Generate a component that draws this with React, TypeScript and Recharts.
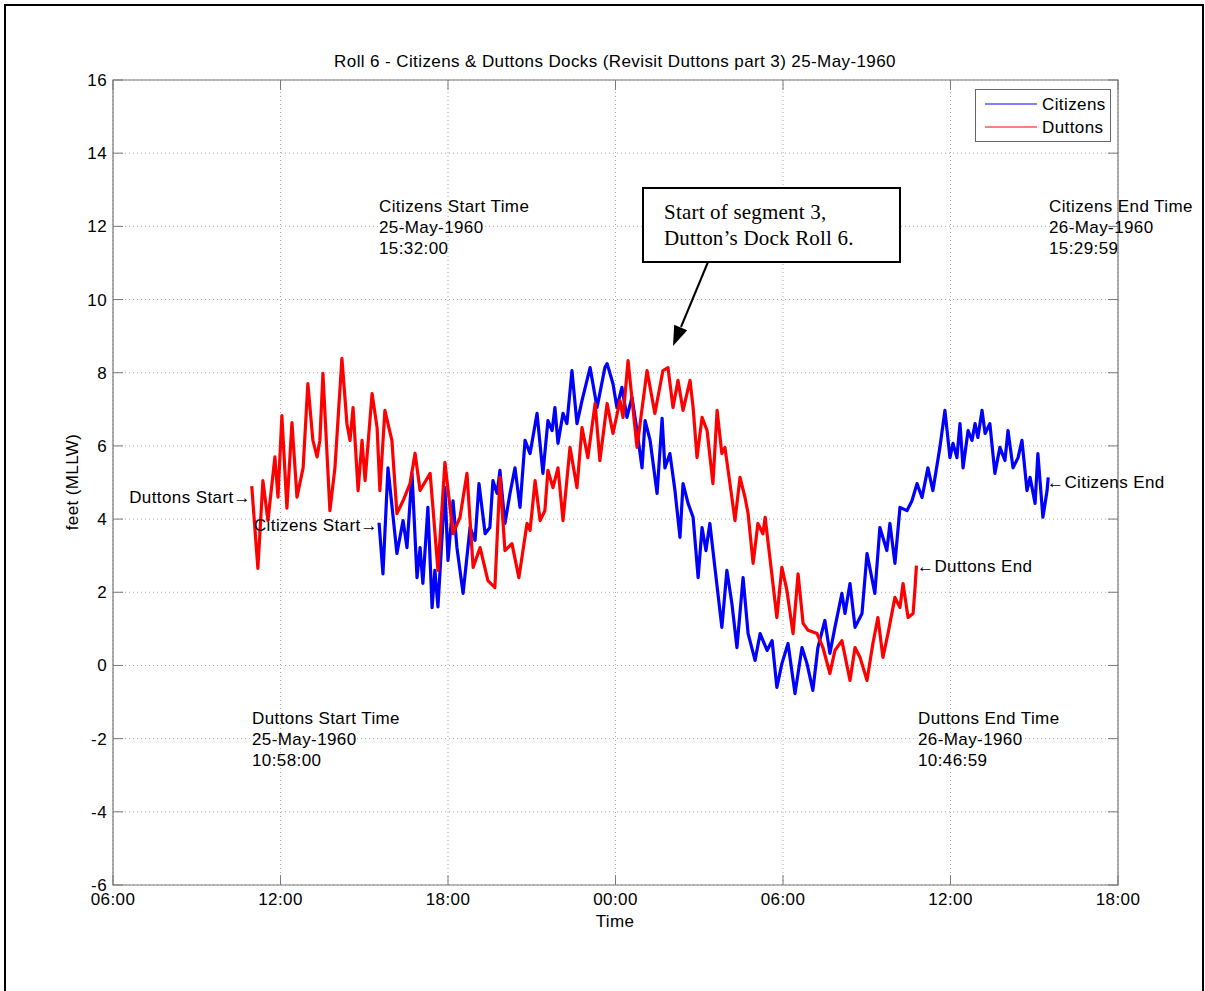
import {
  LineChart,
  Line,
  XAxis,
  YAxis,
  CartesianGrid,
  ReferenceArea,
  ReferenceLine,
} from "recharts";

// hours since midnight of 25-May-1960, water level in feet (MLLW)
const duttons: [number, number][] = [
  [10.97, 4.9], [11.19, 2.65], [11.37, 5.05], [11.55, 3.96], [11.8, 5.7], [11.91, 4.6],
  [12.05, 6.83], [12.23, 4.3], [12.41, 6.64], [12.59, 4.6], [12.81, 5.4], [12.98, 7.7],
  [13.16, 6.15], [13.31, 5.7], [13.41, 6.15], [13.52, 7.98], [13.77, 4.23], [13.95, 5.4],
  [14.2, 8.39], [14.38, 6.6], [14.49, 6.15], [14.6, 7.05], [14.78, 4.78], [14.92, 6.15],
  [15.03, 5.05], [15.28, 7.43], [15.46, 6.5], [15.56, 4.78], [15.74, 6.97], [15.99, 6.15],
  [16.17, 4.15], [16.39, 4.5], [16.64, 4.97], [16.82, 5.8], [17.0, 4.78], [17.36, 5.25],
  [17.46, 4.32], [17.64, 2.6], [17.89, 5.55], [18.18, 3.6], [18.43, 4.05], [18.68, 5.25],
  [18.9, 2.68], [19.15, 3.22], [19.43, 2.32], [19.68, 2.13], [19.86, 5.14], [20.04, 3.14],
  [20.29, 3.33], [20.54, 2.4], [20.83, 3.88], [20.94, 3.69], [21.12, 5.05], [21.3, 3.96],
  [21.47, 4.23], [21.58, 5.33], [21.76, 4.86], [21.94, 5.4], [22.12, 3.96], [22.37, 5.96],
  [22.62, 4.86], [22.8, 6.5], [23.01, 5.68], [23.27, 7.16], [23.44, 5.6], [23.7, 7.16],
  [23.91, 6.34], [24.16, 7.24], [24.27, 6.78], [24.45, 8.33], [24.77, 5.96], [25.13, 8.06],
  [25.41, 6.89], [25.7, 8.06], [25.88, 8.14], [26.06, 7.05], [26.24, 7.79], [26.42, 6.97],
  [26.67, 7.79], [26.78, 7.05], [26.92, 5.68], [27.1, 6.78], [27.28, 6.42], [27.49, 4.97],
  [27.64, 6.97], [27.81, 5.79], [27.92, 5.96], [28.1, 4.97], [28.28, 3.96], [28.46, 5.14],
  [28.64, 4.59], [28.75, 4.15], [28.93, 2.79], [29.1, 3.88], [29.28, 3.6], [29.36, 4.05],
  [29.53, 2.95], [29.78, 1.31], [29.96, 2.68], [30.14, 2.05], [30.36, 0.87], [30.54, 2.5],
  [30.72, 1.15], [30.9, 0.96], [31.22, 0.87], [31.43, 0.49], [31.68, -0.22], [31.86, 0.41],
  [32.11, 0.68], [32.4, -0.41], [32.58, 0.49], [32.76, 0.22], [33.01, -0.41], [33.22, 0.6],
  [33.4, 1.31], [33.58, 0.22], [33.76, 0.87], [34.01, 1.86], [34.19, 1.58], [34.3, 2.24],
  [34.48, 1.31], [34.66, 1.42], [34.73, 2.13], [34.78, 2.73],
];

const citizens: [number, number][] = [
  [15.53, 3.9], [15.67, 2.5], [15.85, 5.4], [16.17, 3.06], [16.39, 3.96], [16.53, 3.22],
  [16.71, 5.25], [16.89, 2.4], [17.0, 3.22], [17.1, 2.24], [17.28, 4.32], [17.43, 1.58],
  [17.53, 2.6], [17.64, 1.6], [17.89, 4.86], [18.0, 2.87], [18.18, 4.5], [18.32, 3.22],
  [18.54, 1.97], [18.79, 3.77], [18.97, 3.42], [19.11, 4.97], [19.33, 3.6], [19.5, 3.77],
  [19.61, 5.05], [19.76, 4.7], [19.86, 5.33], [20.04, 3.88], [20.22, 4.7], [20.4, 5.4],
  [20.58, 4.32], [20.76, 6.15], [20.94, 5.79], [21.19, 6.89], [21.4, 5.25], [21.58, 6.69],
  [21.73, 6.42], [21.83, 7.05], [21.94, 6.07], [22.12, 6.89], [22.26, 6.61], [22.44, 8.06],
  [22.62, 6.61], [22.8, 7.24], [23.09, 8.14], [23.34, 7.05], [23.62, 8.14], [23.7, 8.25],
  [23.91, 7.7], [24.05, 7.05], [24.23, 7.6], [24.41, 6.78], [24.59, 7.33], [24.77, 6.42],
  [24.95, 5.4], [25.06, 6.69], [25.24, 6.15], [25.49, 4.7], [25.67, 6.75], [25.77, 5.4],
  [25.95, 5.79], [26.13, 4.78], [26.31, 3.5], [26.42, 4.97], [26.6, 4.43], [26.78, 4.05],
  [26.96, 2.4], [27.1, 3.77], [27.24, 3.14], [27.38, 3.88], [27.56, 2.68], [27.81, 1.04],
  [27.99, 2.6], [28.17, 1.69], [28.35, 0.49], [28.57, 2.4], [28.75, 0.87], [29.0, 0.14],
  [29.18, 0.87], [29.43, 0.41], [29.61, 0.68], [29.78, -0.6], [29.96, 0.05], [30.18, 0.6],
  [30.43, -0.77], [30.68, 0.49], [30.86, 0.05], [31.07, -0.68], [31.25, 0.49], [31.5, 1.23],
  [31.68, 0.33], [31.86, 1.04], [32.11, 1.97], [32.22, 1.42], [32.4, 2.24], [32.58, 1.04],
  [32.83, 1.42], [33.01, 3.06], [33.29, 1.97], [33.47, 3.77], [33.72, 3.14], [33.83, 3.88],
  [34.01, 2.79], [34.19, 4.32], [34.44, 4.23], [34.62, 4.5], [34.8, 4.97], [34.98, 4.59],
  [35.19, 5.4], [35.37, 4.78], [35.62, 5.96], [35.8, 6.97], [35.98, 5.68], [36.09, 6.07],
  [36.23, 5.68], [36.34, 6.61], [36.45, 5.4], [36.63, 6.42], [36.77, 6.15], [36.88, 6.61],
  [36.98, 6.23], [37.13, 6.97], [37.24, 6.34], [37.41, 6.61], [37.59, 5.25], [37.77, 5.96],
  [37.95, 5.6], [38.06, 6.42], [38.24, 5.4], [38.42, 5.68], [38.56, 6.15], [38.74, 4.78],
  [38.85, 5.14], [39.03, 4.43], [39.13, 5.79], [39.31, 4.05], [39.46, 4.78], [39.5, 5.14],
];

const timeTicks = [6, 12, 18, 24, 30, 36, 42];
const feetTicks = [-6, -4, -2, 0, 2, 4, 6, 8, 10, 12, 14, 16];

const FONT = "'Liberation Sans', Arial, Helvetica, sans-serif";
const SERIF = "'Liberation Serif', 'Times New Roman', serif";
const FS = 17;
const LS = 0.4;

const toRows = (pts: [number, number][]) => pts.map(([t, v]) => ({ t, v }));

const fmtTime = (h: number) => {
  const hh = Math.round(h) % 24;
  return `${hh < 10 ? "0" : ""}${hh}:00`;
};

// inward tick marks, MATLAB style (about 10px long)
const TX = 0.36;
const TY = 0.27;

const txt = { fontSize: FS, fontFamily: FONT, fill: "#000", letterSpacing: LS };

const textBlock = (x: number, y: number, lines: string[]) => (
  <text x={x} {...txt}>
    {lines.map((l, i) => (
      <tspan key={i} x={x} y={y + i * 21}>
        {l}
      </tspan>
    ))}
  </text>
);

const App = () => {
  return (
    <div style={{ position: "absolute", left: 0, top: 0, width: 1205, height: 991, overflow: "hidden", background: "#fff" }}>
      <div
        style={{
          position: "absolute",
          left: 4,
          top: 4,
          width: 1196,
          height: 1000,
          border: "2px solid #000",
          borderBottom: "none",
        }}
      />
      <LineChart
        width={1205}
        height={991}
        margin={{ top: 80, right: 87, bottom: 76, left: 63 }}
        style={{ position: "absolute", left: 0, top: 0 }}
      >
        <CartesianGrid stroke="#a8a8a8" strokeDasharray="1 3" horizontalValues={feetTicks} verticalValues={timeTicks} />
        <XAxis
          type="number"
          dataKey="t"
          domain={[6, 42]}
          ticks={timeTicks}
          tickFormatter={fmtTime}
          allowDataOverflow
          axisLine={false}
          tickLine={false}
          tickSize={0}
          tickMargin={8}
          height={30}
          tick={txt}
        />
        <YAxis
          type="number"
          dataKey="v"
          domain={[-6, 16]}
          ticks={feetTicks}
          allowDataOverflow
          axisLine={false}
          tickLine={false}
          tickSize={0}
          tickMargin={6}
          width={50}
          tick={txt}
        />
        <ReferenceArea x1={6} x2={42} y1={-6} y2={16} fill="none" stroke="#7a7a7a" strokeWidth={1.2} />
        {feetTicks.map((v) => (
          <ReferenceLine key={`l${v}`} segment={[{ x: 6, y: v }, { x: 6 + TX, y: v }]} stroke="#7a7a7a" />
        ))}
        {feetTicks.map((v) => (
          <ReferenceLine key={`r${v}`} segment={[{ x: 42 - TX, y: v }, { x: 42, y: v }]} stroke="#7a7a7a" />
        ))}
        {timeTicks.map((t) => (
          <ReferenceLine key={`b${t}`} segment={[{ x: t, y: -6 }, { x: t, y: -6 + TY }]} stroke="#7a7a7a" />
        ))}
        {timeTicks.map((t) => (
          <ReferenceLine key={`t${t}`} segment={[{ x: t, y: 16 - TY }, { x: t, y: 16 }]} stroke="#7a7a7a" />
        ))}
        <Line
          data={toRows(citizens)}
          dataKey="v"
          type="linear"
          stroke="#0000ff"
          strokeWidth={3.2}
          strokeLinejoin="round"
          dot={false}
          isAnimationActive={false}
        />
        <Line
          data={toRows(duttons)}
          dataKey="v"
          type="linear"
          stroke="#ff0000"
          strokeWidth={3.2}
          strokeLinejoin="round"
          dot={false}
          isAnimationActive={false}
        />
      </LineChart>

      {/* titles, legend and annotations */}
      <svg width={1205} height={991} style={{ position: "absolute", left: 0, top: 0, pointerEvents: "none" }}>
        <text x={615} y={67} textAnchor="middle" {...txt}>
          Roll 6 - Citizens &amp; Duttons Docks (Revisit Duttons part 3) 25-May-1960
        </text>
        <text x={615} y={927} textAnchor="middle" {...txt}>
          Time
        </text>
        <text x={0} y={0} transform="translate(78 482) rotate(-90)" textAnchor="middle" {...txt}>
          feet (MLLW)
        </text>

        <rect x={975.5} y={89.5} width={135} height={52} fill="#fff" stroke="#666" />
        <line x1={985} x2={1037} y1={104} y2={104} stroke="#0000ff" strokeWidth={1.2} />
        <line x1={985} x2={1037} y1={127} y2={127} stroke="#ff0000" strokeWidth={1.2} />
        <text x={1042} y={110} {...txt}>Citizens</text>
        <text x={1042} y={133} {...txt}>Duttons</text>

        {textBlock(379, 212, ["Citizens Start Time", "25-May-1960", "15:32:00"])}
        {textBlock(1049, 212, ["Citizens End Time", "26-May-1960", "15:29:59"])}
        {textBlock(252, 724, ["Duttons Start Time", "25-May-1960", "10:58:00"])}
        {textBlock(918, 724, ["Duttons End Time", "26-May-1960", "10:46:59"])}

        <text x={251} y={503} textAnchor="end" {...txt}>Duttons Start→</text>
        <text x={378} y={531} textAnchor="end" {...txt}>Citizens Start→</text>
        <text x={1047} y={488} {...txt}>←Citizens End</text>
        <text x={917} y={572} {...txt}>←Duttons End</text>

        <rect x={643} y={188} width={257} height={74} fill="#fff" stroke="#000" strokeWidth={2} />
        <text x={664} y={219} fontSize={21} fontFamily={SERIF} letterSpacing={0.2} fill="#000">Start of segment 3,</text>
        <text x={664} y={245} fontSize={21} fontFamily={SERIF} letterSpacing={0.2} fill="#000">Dutton’s Dock Roll 6.</text>
        <line x1={708} y1={262} x2={681} y2={327} stroke="#000" strokeWidth={2} />
        <polygon points="673,346 687.2,330.2 674.2,324.8" fill="#000" />
      </svg>
    </div>
  );
};

export default App;
